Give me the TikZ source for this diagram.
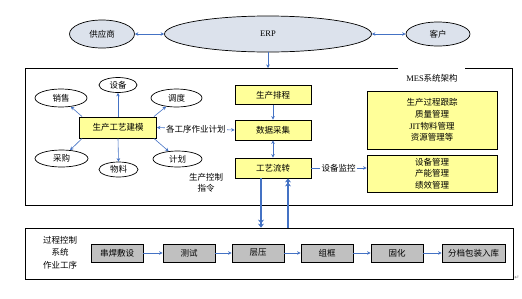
\documentclass[tikz,border=0pt]{standalone}
\usepackage{fontspec}
\setmainfont{Liberation Serif}
\newfontfamily\cjk{Noto Sans CJK SC}
\newfontfamily\dejavu{DejaVu Sans}
\usetikzlibrary{shapes.geometric,arrows.meta}
\definecolor{ellfill}{RGB}{220,226,236}
\definecolor{yfill}{RGB}{255,255,153}
\definecolor{gfill}{RGB}{192,192,192}
\definecolor{arrblue}{RGB}{68,114,196}
\begin{document}
\begin{tikzpicture}[x=1pt,y=-1pt,
  font=\cjk\fontsize{8.5}{11.7}\selectfont,
  topell/.style={ellipse, draw, line width=0.7pt, fill=ellfill, inner sep=0pt},
  smell/.style={ellipse, draw, line width=0.7pt, fill=white, inner sep=0pt},
  ybox/.style={rectangle, draw, line width=0.8pt, fill=yfill, inner sep=0pt, align=center},
  gbox/.style={rectangle, draw, line width=0.8pt, fill=gfill, inner sep=0pt, minimum height=18},
  arr/.style={draw=arrblue, line width=0.6pt, -{Stealth[length=3.5pt,width=3.5pt]}},
  darr/.style={draw=arrblue, line width=0.6pt, {Stealth[length=3.5pt,width=3.5pt]}-{Stealth[length=3.5pt,width=3.5pt]}},
  bigarr/.style={draw=arrblue, line width=1.6pt, -{Stealth[length=4pt,width=6pt] Stealth[length=4pt,width=6pt]}},
  frame/.style={draw, line width=0.7pt}
]
\useasboundingbox (0,0) rectangle (522,298);

% top row
\node[topell, minimum width=65, minimum height=28] (gys) at (102,34) {供应商};
\node[topell, minimum width=207, minimum height=36] (erp) at (268,34) {\rmfamily ERP};
\node[topell, minimum width=64, minimum height=24] (kh) at (438,34) {客户};
\draw[darr] (gys.east) -- (erp.west);
\draw[darr] (erp.east) -- (kh.west);

% MES frame
\coordinate (mestop) at (268,68);
\draw[frame] (398,68) -- (25,68) -- (25,205) -- (512,205) -- (512,68) -- (465,68);
\node (meslbl) at (432,78) {{\rmfamily MES}系统架构};
\draw[arr] (erp.south) -- (mestop);

% modelling cluster
\node[ybox, minimum width=77, minimum height=21] (model) at (118,127.5) {生产工艺建模};
\node[smell, minimum width=38, minimum height=15] (sb) at (118,85) {设备};
\node[smell, minimum width=52, minimum height=18] (xs) at (61,98) {销售};
\node[smell, minimum width=51, minimum height=18] (dd) at (176.5,98) {调度};
\node[smell, minimum width=53, minimum height=17] (cg) at (61.5,158.5) {采购};
\node[smell, minimum width=39, minimum height=15] (wl) at (118.5,169.5) {物料};
\node[smell, minimum width=49, minimum height=16] (jh) at (177.5,159) {计划};
\draw[arr] (model.north) -- (sb.south);
\draw[arr] ([xshift=3]model.north west) -- (xs);
\draw[arr] ([xshift=-3]model.north east) -- (dd);
\draw[arr] ([xshift=3]model.south west) -- (cg);
\draw[arr] (model.south) -- (wl.north);
\draw[arr] ([xshift=-3]model.south east) -- (jh);

% central column
\node[ybox, minimum width=76, minimum height=19] (pc) at (273,95) {生产排程};
\node[ybox, minimum width=76, minimum height=20] (sjcj) at (273,130) {数据采集};
\node[ybox, minimum width=76, minimum height=20] (gylz) at (273,168) {工艺流转};
\draw[arr] (pc.south) -- (sjcj.north);
\draw[darr] (sjcj.south) -- (gylz.north);
\draw[darr] (model.east) -- node[fill=white, inner sep=1pt] {各工序作业计划} (sjcj.west);
\node[align=center, font=\cjk\fontsize{8.5}{11}\selectfont] (sckz) at (206,182.5) {生产控制\\指令};

% right boxes
\node[ybox, minimum width=130, minimum height=58] (rb1) at (432,120) {生产过程跟踪\\质量管理\\{\rmfamily JIT}物料管理\\资源管理等};
\node[ybox, minimum width=130, minimum height=37] (rb2) at (432,173.5) {设备管理\\产能管理\\绩效管理};
\node[inner sep=1pt] (sbjk) at (338.5,168) {设备监控};
\draw[draw=arrblue, line width=0.6pt] (gylz.east) -- (sbjk.west);
\draw[arr] (sbjk.east) -- (sbjk.east -| rb2.west);

% process control box
\node[draw, line width=0.7pt, minimum width=488, minimum height=51, inner sep=0pt] (proc) at (269,253.5) {};
\node[align=center, font=\cjk\fontsize{8.5}{12.5}\selectfont] (pclbl) at (60,252.5) {过程控制\\系统\\作业工序};
\draw[bigarr] ([xshift=-12]gylz.south) -- ([xshift=-12]gylz.south |- proc.north);
\draw[bigarr] ([xshift=15]gylz.south |- proc.north) -- ([xshift=15]gylz.south);

\node[gbox, minimum width=52] (s1) at (117,253) {串焊敷设};
\node[gbox, minimum width=52] (s2) at (189,253) {测试};
\node[gbox, minimum width=52] (s3) at (258,253) {层压};
\node[gbox, minimum width=52] (s4) at (327,253) {组框};
\node[gbox, minimum width=52] (s5) at (397,253) {固化};
\node[gbox, minimum width=63] (s6) at (473.5,253) {分档包装入库};
\draw[arr] (s1) -- (s2);
\draw[arr] (s2) -- (s3);
\draw[arr] (s3) -- (s4);
\draw[arr] (s4) -- (s5);
\draw[arr] (s5) -- (s6);

\node[font=\dejavu\fontsize{6}{6}\selectfont, text=gray, inner sep=0pt] (pm) at (517,278) {↵};
\end{tikzpicture}
\end{document}
